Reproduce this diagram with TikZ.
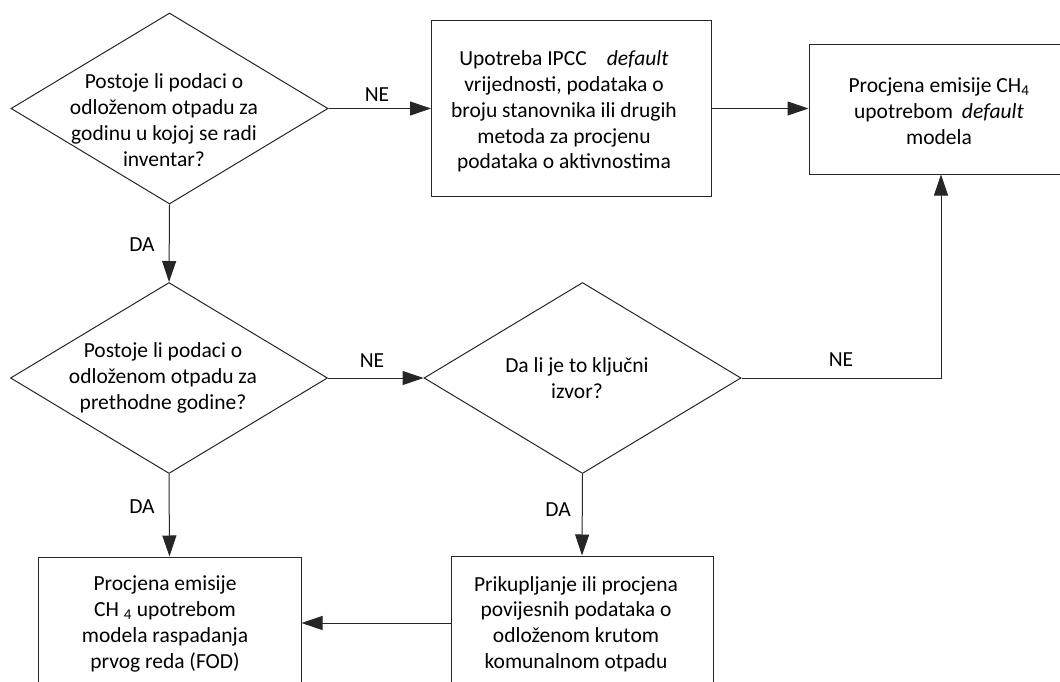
\documentclass[tikz,border=0pt]{standalone}
\usepackage{fontspec}
\setmainfont{Carlito}
\usetikzlibrary{shapes.geometric,arrows.meta}
\begin{document}
\begin{tikzpicture}[x=1pt,y=-1pt,
  shp/.style={draw=black!85,line width=1pt,inner sep=0pt},
  dec/.style={shp,diamond,minimum width=317pt,minimum height=191pt},
  boxs/.style={shp,rectangle},
  txt/.style={align=center,inner sep=0pt,font=\fontsize{21.5}{25.8}\selectfont},
  lbl/.style={inner sep=0pt,font=\fontsize{21.5}{25.8}\selectfont},
  conn/.style={draw=black!85,line width=1pt,-{Triangle[length=21pt,width=14pt]}}]
\useasboundingbox (0,0) rectangle (1060,682);
\clip (0,0) rectangle (1060,682);

% shapes
\node[dec] (d1) at (169.5,108.5) {};
\node[dec] (d2) at (169,378) {};
\node[dec] (d3) at (582.5,378) {};
\node[boxs,minimum width=279.5pt,minimum height=175pt] (b2) at (571.25,108.5) {};
\node[boxs,minimum width=264pt,minimum height=129pt] (b3) at (941,109.5) {};
\node[boxs,minimum width=263pt,minimum height=163pt] (b4) at (169.5,638.5) {};
\node[boxs,minimum width=262pt,minimum height=164pt] (b5) at (582,638) {};

% texts
\node[txt] (t1) at (164,120) {Postoje li podaci o\\odloženom otpadu za\\godinu u kojoj se radi\\inventar?};
\node[txt] (t2) at (163,378) {Postoje li podaci o\\odloženom otpadu za\\prethodne godine?};
\node[txt] (t3) at (577,378.5) {Da li je to ključni\\izvor?};
\node[txt] (tb2) at (564,111.5) {Upotreba IPCC\hspace{20pt}\textit{default}\\vrijednosti, podataka o\\broju stanovnika ili drugih\\metoda za procjenu\\podataka o aktivnostima};
\node[txt] (tb3) at (939,111) {Procjena emisije CH\textsubscript{4}\\upotrebom\hspace{9pt}\textit{default}\\modela};
\node[txt] (tb4) at (165,624) {Procjena emisije\\CH \textsubscript{4} upotrebom\\modela raspadanja\\prvog reda (FOD)};
\node[txt] (tb5) at (576,624) {Prikupljanje ili procjena\\povijesnih podataka o\\odloženom krutom\\komunalnom otpadu};

% connectors
\draw[conn] (d1.east) -- (b2.west);
\draw[conn] (b2.east) -- (b2.east -| b3.west);
\draw[conn] (d3.east) -| (b3.south);
\draw[conn] (d1.south) -- (d2.north);
\draw[conn] (d2.east) -- (d3.west);
\draw[conn] (d2.south) -- (b4.north);
\draw[conn] (d3.south) -- (b5.north);
\coordinate (m) at ([yshift=15pt]b5.west);
\draw[conn] (m) -- (m -| b4.east);

% labels
\node[lbl] (l1) at (377,95) {NE};
\node[lbl] (l2) at (372,361) {NE};
\node[lbl] (l3) at (841,360) {NE};
\node[lbl] (l4) at (142,245) {DA};
\node[lbl] (l5) at (142,507) {DA};
\node[lbl] (l6) at (558,510) {DA};
\end{tikzpicture}
\end{document}
